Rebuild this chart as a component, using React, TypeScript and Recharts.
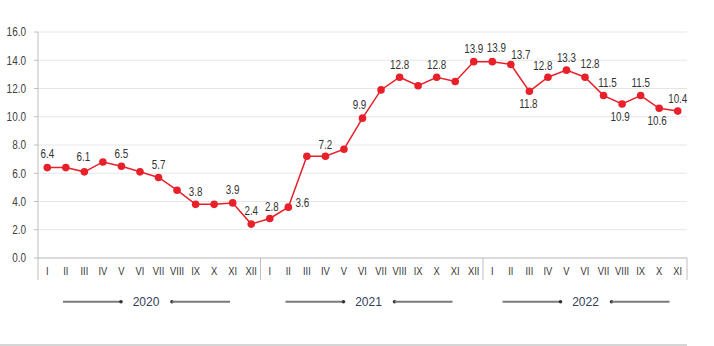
import React from 'react';
import { LineChart, Line, XAxis, YAxis, CartesianGrid, LabelList } from 'recharts';

// ---- data ----
const years = ['2020', '2021', '2022'];
const months = ['I', 'II', 'III', 'IV', 'V', 'VI', 'VII', 'VIII', 'IX', 'X', 'XI', 'XII'];
const values2020 = [6.4, 6.4, 6.1, 6.8, 6.5, 6.1, 5.7, 4.8, 3.8, 3.8, 3.9, 2.4];
const values2021 = [2.8, 3.6, 7.2, 7.2, 7.7, 9.9, 11.9, 12.8, 12.2, 12.8, 12.5, 13.9];
const values2022 = [13.9, 13.7, 11.8, 12.8, 13.3, 12.8, 11.5, 10.9, 11.5, 10.6, 10.4];
const labelled2020 = ['I', 'III', 'V', 'VII', 'IX', 'XI', 'XII'];
const labelled2021 = ['I', 'II', 'IV', 'VI', 'VIII', 'X', 'XII'];
const labelled2022 = ['I', 'II', 'III', 'IV', 'V', 'VI', 'VII', 'VIII', 'IX', 'X', 'XI'];
const yTicks = [0, 2, 4, 6, 8, 10, 12, 14, 16];

const seriesByYear = [values2020, values2021, values2022];
const labelledByYear = [labelled2020, labelled2021, labelled2022];

type Row = {
  key: string;
  year: string;
  yearIndex: number;
  month: string;
  monthIndex: number;
  isLastOfYear: boolean;
  value: number;
  labelled: boolean;
};

const data: Row[] = [];
years.forEach((year, yi) => {
  const vals = seriesByYear[yi];
  vals.forEach((v, mi) => {
    data.push({
      key: `${year}-${months[mi]}`,
      year,
      yearIndex: yi,
      month: months[mi],
      monthIndex: mi,
      isLastOfYear: mi === vals.length - 1,
      value: v,
      labelled: labelledByYear[yi].includes(months[mi]),
    });
  });
});

// ---- styles / layout ----
const FONT = "'Liberation Sans', Arial, sans-serif";
const W = 714;
const H = 343;
const M = { top: 32, right: 27, left: 0, bottom: 19 };
const Y_W = 38;
const PLOT_W = W - M.left - M.right - Y_W;
const HALF_BAND = PLOT_W / data.length / 2;
const X_PAD = { left: HALF_BAND, right: HALF_BAND };
const RED = '#e8202a';
const AXIS = '#bfbfbf';
const TEXT = '#333333';

const NarrowText = ({ x, y, size, sx, fill, anchor, children }: any) => (
  <text
    transform={`translate(${x} ${y}) scale(${sx} 1)`}
    x={0}
    y={0}
    textAnchor={anchor || 'middle'}
    dominantBaseline="central"
    fontSize={size}
    fontFamily={FONT}
    fill={fill}
  >
    {children}
  </text>
);

// label placement tweaks (dx, dy relative to point centre)
const placement: Record<string, { dx: number; dy: number }> = {
  '2020-III': { dx: -1, dy: -15 },
  '2020-I': { dx: 0, dy: -14 },
  '2021-I': { dx: 2, dy: -12 },
  '2021-II': { dx: 14, dy: -5 },
  '2021-IV': { dx: 0, dy: -12 },
  '2021-VI': { dx: -3, dy: -14 },
  '2022-I': { dx: 4, dy: -14 },
  '2022-II': { dx: 10, dy: -10 },
  '2022-III': { dx: -1, dy: 12 },
  '2022-IV': { dx: -5, dy: -12 },
  '2022-VI': { dx: 5, dy: -14 },
  '2022-VII': { dx: 4, dy: -13 },
  '2022-VIII': { dx: -2, dy: 13 },
  '2022-X': { dx: -2, dy: 12 },
  '2022-XI': { dx: 0, dy: -12 },
};

const DataLabel = (props: any) => {
  const { x, y, index } = props;
  const row = data[index];
  if (!row || !row.labelled) return null;
  const p = placement[row.key] || { dx: 0, dy: -13 };
  return (
    <NarrowText x={x + p.dx} y={y + p.dy} size={12} sx={0.82} fill={TEXT}>
      {row.value.toFixed(1)}
    </NarrowText>
  );
};

const YTick = (props: any) => {
  const { x, y, payload } = props;
  return (
    <NarrowText x={x} y={y} size={12} sx={0.83} fill="#404040" anchor="end">
      {Number(payload.value).toFixed(1)}
    </NarrowText>
  );
};

const MonthTick = (props: any) => {
  const { x, y, payload } = props;
  const row = data[payload.index];
  if (!row) return null;
  const sepLen = 22;
  return (
    <g>
      <NarrowText x={x} y={y + 13} size={11} sx={0.85} fill={TEXT}>
        {row.month}
      </NarrowText>
      {row.monthIndex === 0 && (
        <line x1={x - HALF_BAND} x2={x - HALF_BAND} y1={y} y2={y + sepLen} stroke={AXIS} strokeWidth={1} />
      )}
      {row.isLastOfYear && row.yearIndex === years.length - 1 && (
        <line x1={x + HALF_BAND} x2={x + HALF_BAND} y1={y} y2={y + sepLen} stroke={AXIS} strokeWidth={1} />
      )}
    </g>
  );
};

const YearTick = (props: any) => {
  const { x, y, payload } = props;
  const row = data[payload.index];
  if (!row || row.month !== 'VI') return null;
  const full = seriesByYear[row.yearIndex].length === 12;
  const cx = x + (full ? 6 : 0.5);
  const cy = y + 21.7;
  const c = '#7a7a7a';
  return (
    <g>
      <line x1={cx - 83} x2={cx - 25} y1={cy} y2={cy} stroke={c} strokeWidth={2} />
      <circle cx={cx - 25} cy={cy} r={1.8} fill="#333" />
      <text x={cx} y={cy} textAnchor="middle" dominantBaseline="central" fontSize={12} fontFamily={FONT} fill="#34405a">
        {row.year}
      </text>
      <circle cx={cx + 26} cy={cy} r={1.8} fill="#333" />
      <line x1={cx + 26} x2={cx + 84} y1={cy} y2={cy} stroke={c} strokeWidth={2} />
    </g>
  );
};

export default function App() {
  return (
    <div style={{ width: W, height: 346, background: '#fff', position: 'relative' }}>
      <style>{'body{margin:0}'}</style>
      <LineChart width={W} height={H} data={data} margin={M}>
        <CartesianGrid vertical={false} stroke="#e6e6e6" />
        <YAxis
          width={Y_W}
          domain={[0, 16]}
          ticks={yTicks}
          interval={0}
          axisLine={{ stroke: AXIS }}
          tickLine={{ stroke: AXIS }}
          tickSize={4}
          tickMargin={8}
          tick={<YTick />}
        />
        <XAxis
          dataKey="key"
          interval={0}
          height={22}
          padding={X_PAD}
          tickSize={0}
          tickMargin={0}
          tickLine={false}
          axisLine={{ stroke: AXIS }}
          tick={<MonthTick />}
        />
        <XAxis
          xAxisId="year"
          dataKey="key"
          interval={0}
          height={44}
          padding={X_PAD}
          tickSize={0}
          tickMargin={0}
          tickLine={false}
          axisLine={false}
          tick={<YearTick />}
        />
        <Line
          type="linear"
          dataKey="value"
          stroke={RED}
          strokeWidth={1.5}
          dot={{ r: 3.8, fill: RED, stroke: 'none' }}
          activeDot={false}
          isAnimationActive={false}
        >
          <LabelList dataKey="value" content={<DataLabel />} />
        </Line>
      </LineChart>
      <div style={{ width: 687, height: 2, background: '#d6d6d6', marginTop: 1 }} />
    </div>
  );
}
